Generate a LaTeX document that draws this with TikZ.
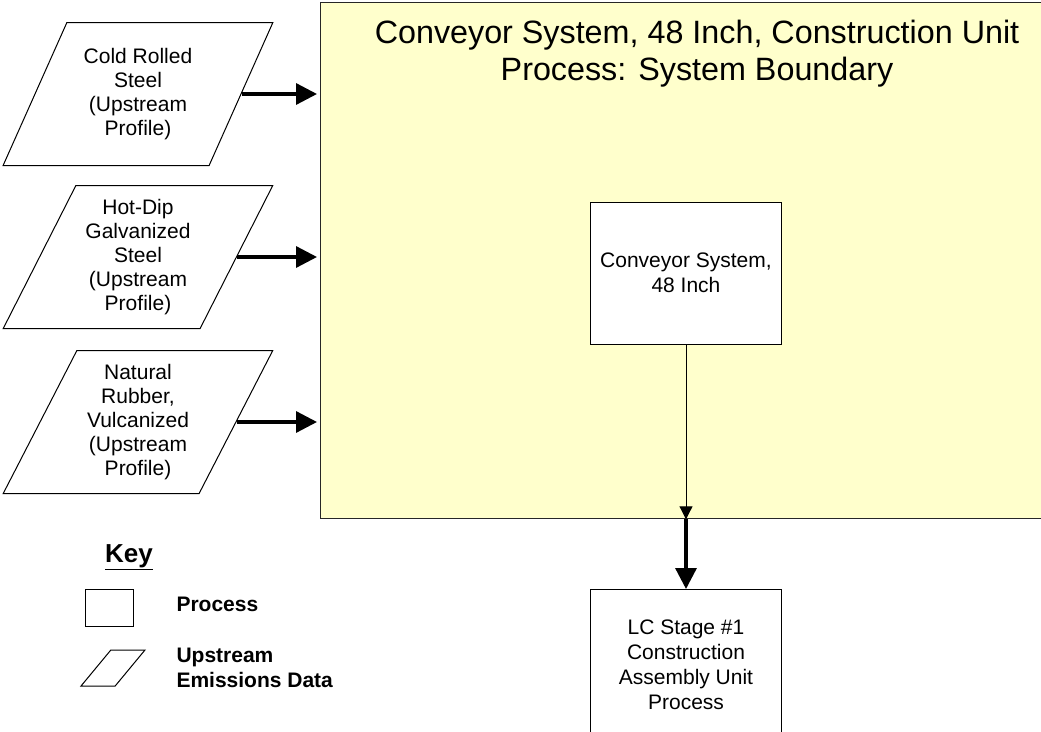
\documentclass[tikz,border=0pt]{standalone}
\usepackage{fontspec}
\setmainfont{Liberation Sans}
\usetikzlibrary{shapes.geometric,arrows.meta}
\definecolor{boundaryYellow}{RGB}{255,255,204}
\tikzstyle{upstreamData}=[shape = trapezium, trapezium left angle = 62, trapezium right angle = 118, trapezium stretches = true, minimum width = 270pt, minimum height = 143pt, inner sep = 0pt, align = center, draw, line width = 1pt, fill = white, font = \fontsize{21}{24}\selectfont]
\tikzstyle{processBox}=[shape = rectangle, minimum width = 191pt, minimum height = 142pt, inner sep = 0pt, align = center, draw, line width = 1pt, fill = white, font = \fontsize{21}{25}\selectfont]

\begin{document}
\begin{tikzpicture}[x = 1pt, y = -1pt]
\tikzstyle{flowArrow}=[line width = 3.3pt, -{Triangle[length = 21pt, width = 21pt]}]
\tikzstyle{thinArrow}=[line width = 1pt, -{Triangle[length = 13pt, width = 13pt]}]
\tikzstyle{keyText}=[anchor = west, align = left, font = \fontsize{21}{25}\selectfont\bfseries]
\useasboundingbox (0,0) rectangle (1041,731);
% system boundary
\node[draw = black!85, fill = boundaryYellow, line width = 1.3pt, minimum width = 725pt, minimum height = 516pt, inner sep = 0pt, anchor = north west] (boundary) at (320,2) {};
\node[align = center, font = \fontsize{32.3}{37}\selectfont] (title) at (697,54) {Conveyor System, 48 Inch, Construction Unit\\Process: System Boundary};
% upstream data
\node[upstreamData] (cold) at (138,94) {Cold Rolled\\Steel\\(Upstream\\Profile)};
\node[upstreamData] (galv) at (138,257) {Hot-Dip\\Galvanized\\Steel\\(Upstream\\Profile)};
\node[upstreamData] (rubber) at (138,422) {Natural\\Rubber,\\Vulcanized\\(Upstream\\Profile)};
% processes
\node[processBox] (conveyor) at (686,273) {Conveyor System,\\48 Inch};
\node[processBox, minimum height = 150pt, anchor = north] (stage) at (686,589) {LC Stage \#1\\Construction\\Assembly Unit\\Process};
\coordinate (outlet) at (conveyor.south |- boundary.south);
\draw[flowArrow, shorten > = 3pt] (cold.east) -- (cold.east -| boundary.west);
\draw[flowArrow, shorten > = 3pt] (galv.east) -- (galv.east -| boundary.west);
\draw[flowArrow, shorten > = 3pt] (rubber.east) -- (rubber.east -| boundary.west);
\draw[thinArrow] (conveyor.south) -- (outlet);
\draw[flowArrow] (outlet) -- (stage.north);
% key
\node[font = \fontsize{26}{30}\selectfont\bfseries] (keyTitle) at (129,557) {\underline{Key}};
\node[draw, line width = 1pt, minimum width = 48pt, minimum height = 37pt, inner sep = 0pt] (keyProcess) at (109,608) {};
\node[upstreamData, minimum width = 64pt, minimum height = 36pt, inner sep = 1pt] (keyData) at (113,668) {\strut};
\node[keyText] (keyProcessText) at (173,604) {Process};
\node[keyText] (keyDataText) at (173,668) {Upstream\\Emissions Data};
\end{tikzpicture}
\end{document}
